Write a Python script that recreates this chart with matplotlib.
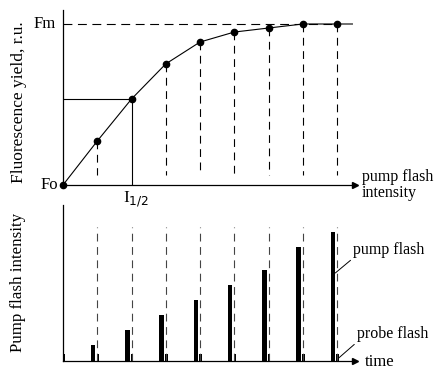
import numpy as np
import matplotlib.pyplot as plt

plt.rcParams['font.family'] = ['Liberation Serif', 'DejaVu Serif']

# flash number (0 = first probe flash at origin)
flash = np.arange(9)
# fluorescence yield (0 = Fo, 1 = Fm)
fluor = [0.0, 0.273, 0.534, 0.752, 0.888, 0.95, 0.975, 1.0, 1.0]
# pump flash intensity (relative) for flashes 1..8
pump = [16, 31, 46, 61, 76, 91, 114, 129]
probe = 7
half_idx = 2  # I1/2 at the third point

fig = plt.figure(figsize=(4.4, 3.83), dpi=100)
W, H = 440.0, 383.0

step = 34.25  # px per flash
x_end = (355 - 63) / step
DASH = (0, (7, 5))

# ---------- top panel ----------
ax1 = fig.add_axes([63 / W, (H - 185) / H, 292 / W, 175 / H])
ax1.set_xlim(0, x_end)
ax1.set_ylim(0, 175 / 161)
for s in ['top', 'right']:
    ax1.spines[s].set_visible(False)
for s in ['left', 'bottom']:
    ax1.spines[s].set_linewidth(0.9)
ax1.set_xticks([])
ax1.set_yticks([])
ax1.patch.set_alpha(0)
ax1.plot(1, 0, marker='>', color='k', ms=4, transform=ax1.transAxes, clip_on=False)

# Fm dashed level
ax1.plot([0, flash[-1]], [1, 1], color='k', lw=0.8, ls=(0, (8, 5)))
# curve (flat tail beyond last point)
ax1.plot(list(flash) + [8.45], fluor + [1.0], color='k', lw=0.8)
ax1.plot(flash, fluor, 'o', color='k', ms=4.5, clip_on=False)
# dashed drops
for i in flash[1:]:
    if i == half_idx:
        continue
    ax1.plot([i, i], [fluor[i], 0.06], color='k', lw=0.8, ls=DASH)
# I1/2 construction
ax1.plot([0, half_idx, half_idx], [fluor[half_idx], fluor[half_idx], 0], color='k', lw=0.8)

ax1.text(-0.2, 1.0, 'Fm', ha='right', va='center', fontsize=12)
ax1.text(-0.15, 0.0, 'Fo', ha='right', va='center', fontsize=12)
ax1.text(1.75, -0.03, r'I$_{1/2}$', ha='left', va='top', fontsize=12.5)
ax1.text(x_end + 0.2, 0.0, 'pump flash\nintensity', ha='left', va='center',
         fontsize=11.5, linespacing=1.0)
ax1.text(-1.28, 0.515, 'Fluorescence yield, r.u.', rotation=90,
         ha='center', va='center', fontsize=12.5)

# ---------- bottom panel ----------
ax2 = fig.add_axes([63 / W, (H - 361) / H, 292 / W, 156 / H])
ax2.set_xlim(0, x_end)
ax2.set_ylim(0, 156)
for s in ['top', 'right']:
    ax2.spines[s].set_visible(False)
for s in ['left', 'bottom']:
    ax2.spines[s].set_linewidth(0.9)
ax2.set_xticks([])
ax2.set_yticks([])
ax2.patch.set_alpha(0)
ax2.plot(1, 0, marker='>', color='k', ms=4, transform=ax2.transAxes, clip_on=False)

for i in flash[1:]:
    ax2.plot([i, i], [0, 134], color='#444444', lw=0.8, ls=DASH)
ax2.bar(flash[1:] - 0.12, pump, width=0.13, color='k')
ax2.bar(flash + 0.02, [probe] * len(flash), width=0.07, color='k')

ax2.annotate('pump flash', xy=(flash[-1] - 0.05, 88), xytext=(x_end - 0.05, 103),
             ha='left', va='bottom', fontsize=11.5,
             arrowprops=dict(arrowstyle='-', color='k', lw=0.7, shrinkA=0, shrinkB=0,
                             relpos=(0.0, 0.0)))
ax2.annotate('probe flash', xy=(flash[-1] + 0.05, 3), xytext=(x_end + 0.06, 19),
             ha='left', va='bottom', fontsize=11.5,
             arrowprops=dict(arrowstyle='-', color='k', lw=0.7, shrinkA=0, shrinkB=0,
                             relpos=(0.0, 0.0)))
ax2.text(x_end + 0.3, -1, 'time', ha='left', va='center', fontsize=12)
ax2.text(-1.31, 79, 'Pump flash intensity', rotation=90,
         ha='center', va='center', fontsize=12.2)

fig.savefig('out.png', dpi=100)
